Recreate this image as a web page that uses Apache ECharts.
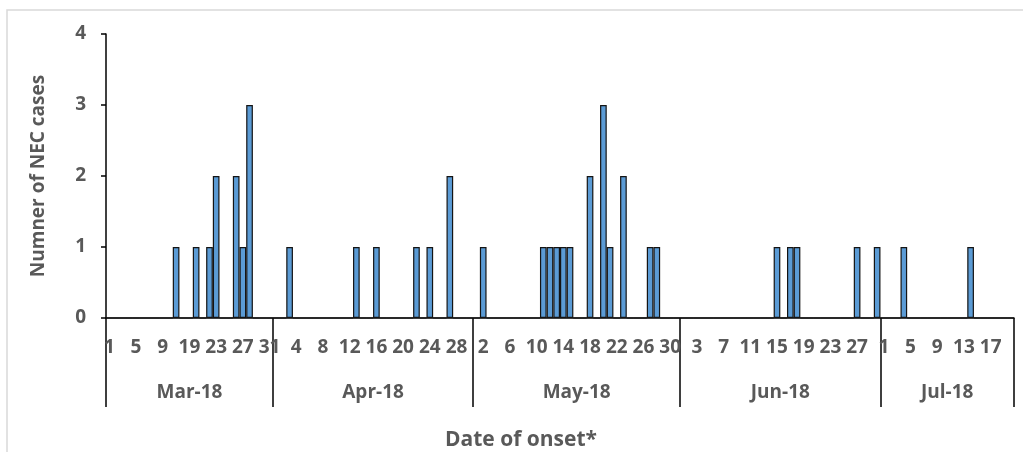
<!DOCTYPE html>
<html>
<head>
<meta charset="utf-8">
<script src="https://cdn.jsdelivr.net/npm/echarts@6/dist/echarts.min.js"></script>
<style>
html,body{margin:0;padding:0;background:#fff;}
#c{width:1023px;height:452px;}
</style>
</head>
<body>
<div id="c"></div>
<script>
// ---- data ----
const months = ['Mar-18', 'Apr-18', 'May-18', 'Jun-18', 'Jul-18'];

const marDays = [1,2,3,4,5,6,7,8,9,16,17,18,19,20,21,22,23,24,25,26,27,28,29,30,31];
const aprDays = [1,2,3,4,5,6,7,8,9,10,11,12,13,14,15,16,17,18,19,20,21,22,23,24,25,26,27,28,29,30];
const mayDays = [1,2,3,4,5,6,7,8,9,10,11,12,13,14,15,16,17,18,19,20,21,22,23,24,25,26,27,28,29,30,31];
const junDays = [1,2,3,4,5,6,7,8,9,10,11,12,13,14,15,16,17,18,19,20,21,22,23,24,25,26,27,28,29,30];
const julDays = [1,2,3,4,5,6,7,8,9,10,11,12,13,14,15,16,17,18,19,20];

const marCases = [0,0,0,0,0,0,0,0,0, 0,1,0,0,1,0,1,2,0,0,2,1,3,0,0,0];
const aprCases = [0,0,1,0,0,0,0,0,0,0, 0,0,1,0,0,1,0,0,0,0, 0,1,0,1,0,0,2,0,0,0];
const mayCases = [0,1,0,0,0,0,0,0,0,0, 1,1,1,1,1,0,0,2,0,3, 1,0,2,0,0,0,1,1,0,0, 0];
const junCases = [0,0,0,0,0,0,0,0,0,0, 0,0,0,0,1,0,1,1,0,0, 0,0,0,0,0,0,1,0,0,1];
const julCases = [0,0,0,1,0,0,0,0,0,0, 0,0,0,1,0,0,0,0,0,0];

const yTicks = [0, 1, 2, 3, 4];

// ---- build category table ----
const dayLists = [marDays, aprDays, mayDays, junDays, julDays];
const caseLists = [marCases, aprCases, mayCases, junCases, julCases];
const categories = [];
const values = [];
const monthStart = {};
const monthMid = {};
dayLists.forEach(function (days, m) {
  monthStart[categories.length] = true;
  const mid = categories.length + Math.floor((days.length - 1) / 2);
  monthMid[mid] = { name: months[m], even: days.length % 2 === 0 };
  days.forEach(function (d, k) {
    categories.push(months[m] + '|' + d);
    values.push(caseLists[m][k]);
  });
});

const FONT = "'Open Sans', 'DejaVu Sans', sans-serif";
const GREY = '#595959';
const bandPx = (1014 - 106) / categories.length;

const chart = echarts.init(document.getElementById('c'), null, { renderer: 'canvas' });
chart.setOption({
  animation: false,
  backgroundColor: '#fff',
  grid: { left: 106, right: 9, top: 34, bottom: 134, containLabel: false },
  graphic: [
    {
      type: 'rect',
      shape: { x: 7, y: 10, width: 1030, height: 460 },
      style: { fill: 'none', stroke: '#d9d9d9', lineWidth: 1.5 },
      silent: true
    },
    {
      type: 'text',
      x: 521, y: 440,
      style: {
        text: 'Date of onset*',
        align: 'center', verticalAlign: 'middle',
        fill: GREY, fontFamily: FONT, fontWeight: 'bold', fontSize: 21
      }
    }
  ],
  xAxis: [
    {
      type: 'category',
      data: categories,
      boundaryGap: true,
      axisLine: { show: true, lineStyle: { color: '#000', width: 1.5 } },
      axisTick: { show: false },
      axisLabel: {
        interval: 3,
        margin: 20,
        color: GREY, fontFamily: FONT, fontWeight: 'bold', fontSize: 19,
        formatter: function (v) { return v.split('|')[1]; }
      },
      splitLine: { show: false }
    },
    {
      type: 'category',
      data: categories,
      position: 'bottom',
      boundaryGap: true,
      axisLine: { show: false },
      axisTick: {
        show: true, length: 89,
        interval: function (i) { return !!monthStart[i]; },
        lineStyle: { color: '#000', width: 1.5 }
      },
      axisLabel: {
        interval: function (i) { return !!monthMid[i]; },
        margin: 65,
        color: GREY, fontFamily: FONT, fontWeight: 'bold', fontSize: 19,
        formatter: function (v, i) {
          const mm = monthMid[i];
          if (!mm) return '';
          return (mm.even ? '{s|' : '{n|') + mm.name + '}';
        },
        rich: {
          s: { padding: [0, 0, 0, bandPx], color: GREY, fontFamily: FONT, fontWeight: 'bold', fontSize: 19 },
          n: { color: GREY, fontFamily: FONT, fontWeight: 'bold', fontSize: 19 }
        }
      },
      splitLine: { show: false }
    }
  ],
  yAxis: {
    type: 'value',
    min: yTicks[0],
    max: yTicks[yTicks.length - 1],
    interval: 1,
    name: 'Numner of NEC cases',
    nameLocation: 'middle',
    nameRotate: 90,
    nameGap: 58,
    nameTextStyle: { color: GREY, fontFamily: FONT, fontWeight: 'bold', fontSize: 19 },
    axisLine: { show: true, lineStyle: { color: '#000', width: 1.5 } },
    axisTick: { show: true, inside: false, length: 5, lineStyle: { color: '#000', width: 1.5 } },
    axisLabel: { margin: 20, color: GREY, fontFamily: FONT, fontWeight: 'bold', fontSize: 19 },
    splitLine: { show: false }
  },
  series: [
    {
      type: 'bar',
      xAxisIndex: 0,
      data: values,
      barCategoryGap: '0%',
      itemStyle: { color: '#5B9BD5', borderColor: '#141414', borderWidth: 1.2 }
    }
  ]
});
</script>
</body>
</html>
